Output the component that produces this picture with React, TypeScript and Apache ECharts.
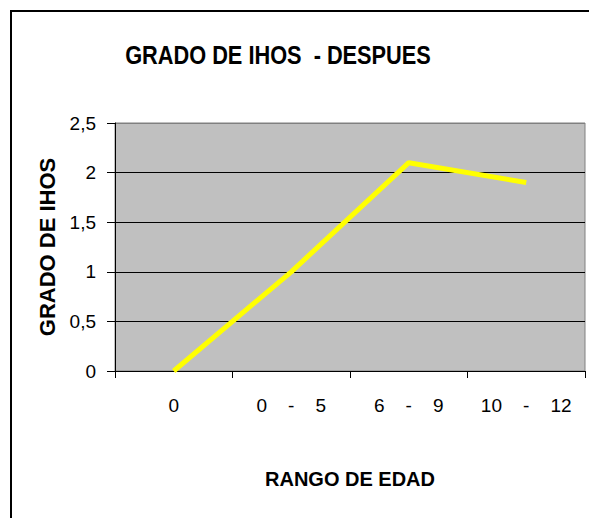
import React, { useEffect, useRef } from "react";
import * as echarts from "echarts";

const categories = ["0", "0    -    5", "6    -    9", "10    -    12"];
const values = [0, 1.0, 2.1, 1.9];
const yTicks = { min: 0, max: 2.5, interval: 0.5 };
const titleText = "GRADO DE IHOS  - DESPUES";
const yName = "GRADO DE IHOS";
const xName = "RANGO DE EDAD";

const FONT = "'Liberation Sans', Arial, sans-serif";

export default function App() {
  const ref = useRef<HTMLDivElement>(null);
  useEffect(() => {
    document.body.style.margin = "0";
    const chart = echarts.init(ref.current!, null, { renderer: "svg" });
    chart.setOption({
      animation: false,
      backgroundColor: "#ffffff",
      graphic: [
        {
          type: "rect",
          shape: { x: 11, y: 11, width: 700, height: 700 },
          style: { fill: "none", stroke: "#000", lineWidth: 2 },
          silent: true,
          z: 100,
        },
        {
          type: "text",
          x: 278,
          y: 55,
          scaleX: 0.87,
          style: {
            text: titleText,
            fontFamily: FONT,
            fontSize: 25,
            fontWeight: "bold",
            fill: "#000",
            textAlign: "center",
            textVerticalAlign: "middle",
          },
          silent: true,
        },
      ],
      grid: {
        left: 115,
        top: 123,
        right: 4,
        bottom: 147,
        show: true,
        backgroundColor: "#c0c0c0",
        borderColor: "#808080",
        borderWidth: 1,
      },
      xAxis: {
        type: "category",
        data: categories,
        boundaryGap: true,
        name: xName,
        nameLocation: "middle",
        nameGap: 98,
        nameTextStyle: { fontFamily: FONT, fontSize: 20, fontWeight: "bold", color: "#000" },
        axisLine: { show: true, lineStyle: { color: "#000", width: 1 } },
        axisTick: { show: true, length: 7, lineStyle: { color: "#000" } },
        axisLabel: { fontFamily: FONT, fontSize: 19, color: "#000", margin: 25, interval: 0 },
        splitLine: { show: false },
      },
      yAxis: {
        type: "value",
        min: yTicks.min,
        max: yTicks.max,
        interval: yTicks.interval,
        name: yName,
        nameLocation: "middle",
        nameGap: 57,
        nameTextStyle: { fontFamily: FONT, fontSize: 22, fontWeight: "bold", color: "#000" },
        axisLine: { show: true, lineStyle: { color: "#000", width: 1 } },
        axisTick: { show: true, length: 8, lineStyle: { color: "#000" } },
        axisLabel: {
          fontFamily: FONT,
          fontSize: 19,
          color: "#000",
          margin: 19,
          formatter: (v: number) => String(v).replace(".", ","),
        },
        splitLine: {
          show: true,
          lineStyle: { color: ["#000", "#000", "#000", "#000", "#000", "#808080"], width: 1 },
        },
      },
      series: [
        {
          type: "line",
          data: values,
          showSymbol: false,
          symbol: "none",
          lineStyle: { color: "#ffff00", width: 5 },
          itemStyle: { color: "#ffff00" },
        },
      ],
    });
    return () => chart.dispose();
  }, []);
  return (
    <div
      ref={ref}
      style={{ position: "fixed", left: 0, top: 0, width: 589, height: 518 }}
    />
  );
}
